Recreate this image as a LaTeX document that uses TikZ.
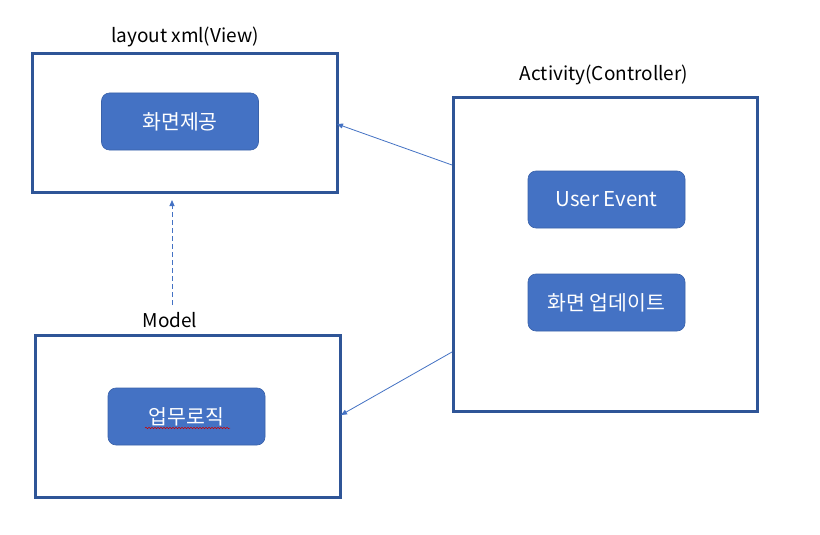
\documentclass[tikz,border=0pt]{standalone}
\usepackage{fontspec}
\setmainfont{Noto Sans CJK KR}
\usetikzlibrary{arrows.meta,decorations.pathmorphing}
\definecolor{frame}{HTML}{2F5597}
\definecolor{btn}{HTML}{4472C4}
\definecolor{btnline}{HTML}{3A62AA}
\begin{document}
\begin{tikzpicture}[x=1pt,y=-1pt,
  panel/.style={draw=frame,line width=3pt,fill=white},
  btnbox/.style={draw=btnline,line width=0.6pt,fill=btn,rounded corners=8pt,
    minimum width=157pt,minimum height=57pt,text=white,font=\fontsize{20.5}{22}\selectfont,inner sep=0pt},
  ttl/.style={font=\fontsize{19}{22}\selectfont,text=black,inner sep=0pt},
  conn/.style={draw=btn,line width=0.8pt,-{Triangle[length=6pt,width=5pt]}}]
\useasboundingbox (0,0) rectangle (820,535);
\fill[white] (0,0) rectangle (820,535);
% panels
\draw[panel] (32,54) rectangle (337,192);
\coordinate (viewR) at (337,124);
\coordinate (viewB) at (172,200);
\draw[panel] (35,335) rectangle (340,497);
\coordinate (modelR) at (341,415);
\coordinate (modelT) at (172,305);
\draw[panel] (453,98) rectangle (757,411);
\coordinate (ctrlA) at (452,165);
\coordinate (ctrlB) at (452,352);
% titles
\node[ttl] (t1) at (185,37) {layout xml(View)};
\node[ttl] (t2) at (170,320) {Model};
\node[ttl] (t3) at (604,75) {Activity(Controller)};
% buttons
\node[btnbox] (b1) at (180,121.5) {화면제공};
\node[btnbox] (b2) at (186.5,416.5) {업무로직};
\node[btnbox] (b3) at (606.5,199.5) {User Event};
\node[btnbox] (b4) at (606.5,302.5) {화면 업데이트};
% spell-check squiggle
\draw[red!80!black,line width=0.5pt,decorate,decoration={snake,amplitude=0.8pt,segment length=3pt}] (145,428) -- (230,428);
% connectors
\draw[conn] (ctrlA) -- (viewR);
\draw[conn] (ctrlB) -- (modelR);
\draw[conn,dashed,dash pattern=on 5pt off 3pt] (modelT) -- (viewB);
\end{tikzpicture}
\end{document}
